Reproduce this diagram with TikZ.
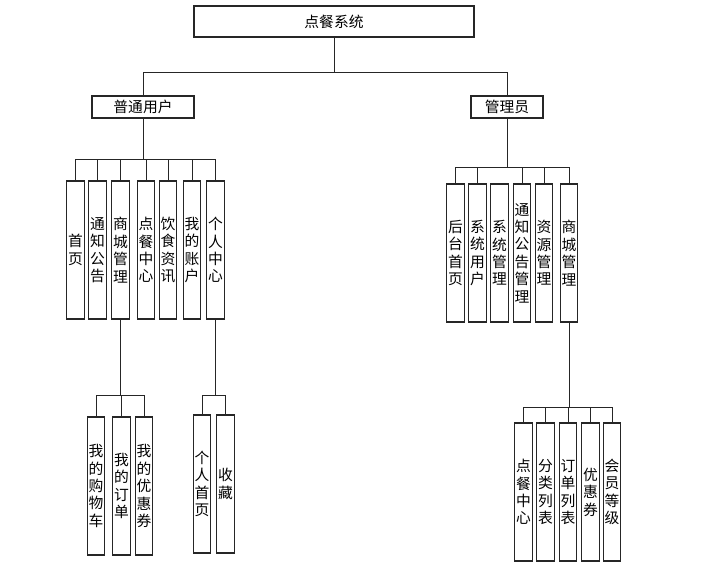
\documentclass[tikz,border=0pt]{standalone}
\usepackage{fontspec}
\newfontfamily\cjk{Noto Sans CJK SC}
\usepackage{tikz}
\usetikzlibrary{positioning,calc}
\newcommand{\boxfont}{\cjk\fontsize{10.5pt}{12.4pt}\selectfont}

\begin{document}
\begin{tikzpicture}[
    x=0.025cm,y=-0.025cm,
    link/.style={line width=0.7pt,black!85},
    topbox/.style={draw=black!85,line width=0.8pt,minimum width=7cm,minimum height=0.775cm,inner sep=0pt,font=\boxfont},
    midbox/.style={draw=black!85,line width=0.8pt,minimum height=0.55cm,inner sep=0pt,font=\boxfont},
    vbox/.style={draw=black!85,line width=0.8pt,minimum width=0.44cm,minimum height=3.45cm,inner sep=0pt,align=center,font=\boxfont}]
\useasboundingbox[fill=white] (0,0) rectangle (718,586);
% ===== root and the two roles =====
\node[topbox] (sys) at (334,21.5) {点餐系统};
\node[midbox,minimum width=2.55cm] (user) at (143,107) {普通用户};
\node[midbox,minimum width=1.8cm] (admin) at (507,107) {管理员};
% ===== ordinary user modules =====
\node[vbox] (u1) at (75.5,250) {首\\页};
\node[vbox] (u2) at (97.5,250) {通\\知\\公\\告};
\node[vbox] (u3) at (120.5,250) {商\\城\\管\\理};
\node[vbox] (u4) at (146,250) {点\\餐\\中\\心};
\node[vbox] (u5) at (168,250) {饮\\食\\资\\讯};
\node[vbox] (u6) at (192,250) {我\\的\\账\\户};
\node[vbox] (u7) at (215.5,250) {个\\人\\中\\心};
% ===== admin modules =====
\node[vbox] (a1) at (455.5,253) {后\\台\\首\\页};
\node[vbox] (a2) at (477.5,253) {系\\统\\用\\户};
\node[vbox] (a3) at (499.5,253) {系\\统\\管\\理};
\node[vbox] (a4) at (522,253) {通\\知\\公\\告\\管\\理};
\node[vbox] (a5) at (544,253) {资\\源\\管\\理};
\node[vbox] (a6) at (569,253) {商\\城\\管\\理};
% ===== third level =====
\node[vbox] (l1) at (96,486) {我\\的\\购\\物\\车};
\node[vbox] (l2) at (121.5,486) {我\\的\\订\\单};
\node[vbox] (l3) at (144,486) {我\\的\\优\\惠\\券};
\node[vbox] (p1) at (202,484) {个\\人\\首\\页};
\node[vbox] (p2) at (225.5,484) {收\\藏};
\node[vbox] (m1) at (523.5,492) {点\\餐\\中\\心};
\node[vbox] (m2) at (545.5,492) {分\\类\\列\\表};
\node[vbox] (m3) at (568,492) {订\\单\\列\\表};
\node[vbox] (m4) at (590.5,492) {优\\惠\\券};
\node[vbox] (m5) at (612,492) {会\\员\\等\\级};
% ===== bus points =====
\coordinate (sbus) at (334,72);
\coordinate (ubus) at (143,159);
\coordinate (abus) at (507,167);
\coordinate (lbus) at (120.5,395);
\coordinate (pbus) at (215.5,395);
\coordinate (mbus) at (569,407);
% ===== connectors =====
\draw[link] (sys.south) -- (sbus) -| (user.north);
\draw[link] (sbus) -| (admin.north);
\draw[link] (user.south) -- (ubus);
\foreach \c in {u1,u2,u3,u4,u5,u6,u7}
  \draw[link] (ubus) -| (\c.north);
\draw[link] (admin.south) -- (abus);
\foreach \c in {a1,a2,a4,a5,a6}
  \draw[link] (abus) -| (\c.north);
\draw[link] (u3.south) -- (lbus);
\foreach \c in {l1,l2,l3}
  \draw[link] (lbus) -| (\c.north);
\draw[link] (u7.south) -- (pbus);
\foreach \c in {p1,p2}
  \draw[link] (pbus) -| (\c.north);
\draw[link] (a6.south) -- (mbus);
\foreach \c in {m1,m2,m3,m4,m5}
  \draw[link] (mbus) -| (\c.north);
\end{tikzpicture}
\end{document}
